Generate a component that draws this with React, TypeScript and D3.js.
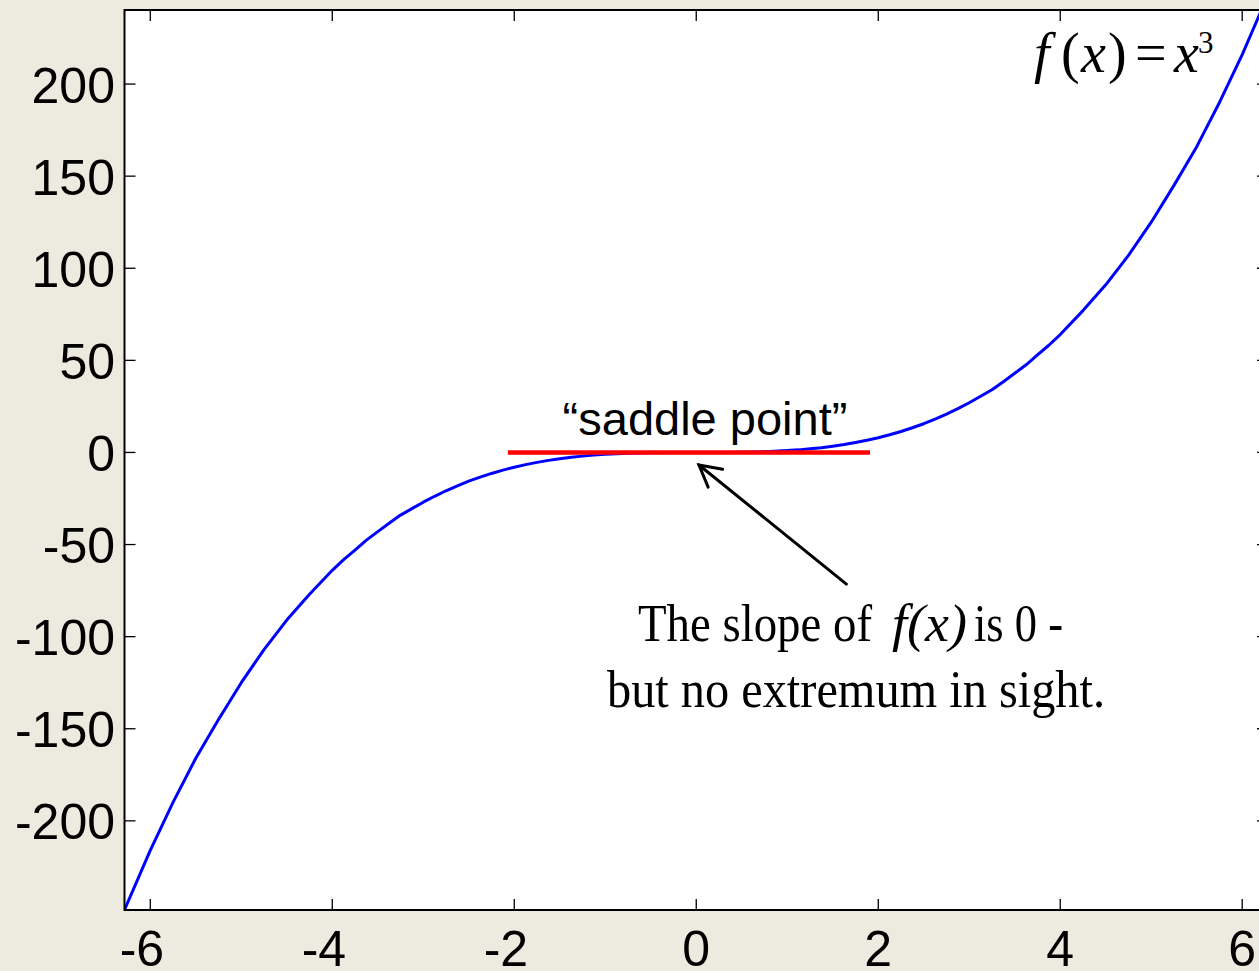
import React from "react";
import * as d3 from "d3";

// Sampled curve f(x) = x^3
const curveX = [
  -6.28, -6.0, -5.75, -5.5, -5.25, -5.0, -4.75, -4.5, -4.25, -4.0, -3.875, -3.75, -3.625,
  -3.5, -3.375, -3.25, -3.125,
  -3.0, -2.875, -2.75, -2.625, -2.5, -2.375, -2.25, -2.125, -2.0, -1.875, -1.75, -1.625,
  -1.5, -1.375, -1.25, -1.125, -1.0, -0.75, -0.5, -0.25, 0,
  0.25, 0.5, 0.75, 1.0, 1.125, 1.25, 1.375, 1.5, 1.625, 1.75, 1.875, 2.0, 2.125, 2.25,
  2.375, 2.5, 2.625, 2.75, 2.875, 3.0, 3.125, 3.25, 3.375, 3.5, 3.625, 3.75, 3.875,
  4.0, 4.25, 4.5, 4.75, 5.0, 5.25, 5.5, 5.75, 6.0, 6.28,
];
const curveY = [
  -248, -216, -190, -166, -145, -125, -107, -91, -77, -64, -58.2, -53, -47.6,
  -43, -38.4, -34, -30.5,
  -27, -23.8, -20.8, -18.1, -15.6, -13.4, -11.4, -9.6, -8, -6.6, -5.4, -4.3,
  -3.4, -2.6, -2, -1.4, -1, -0.4, -0.1, 0, 0,
  0, 0.1, 0.4, 1, 1.4, 2, 2.6, 3.4, 4.3, 5.4, 6.6, 8, 9.6, 11.4,
  13.4, 15.6, 18.1, 20.8, 23.8, 27, 30.5, 34, 38.4, 43, 47.6, 53, 58.2,
  64, 77, 91, 107, 125, 145, 166, 190, 216, 248,
];

// Horizontal tangent at the saddle point
const tangentX = [-2.07, 1.91];
const tangentY = [0, 0];

// Arrow from the note to the saddle point (tail, tip)
const arrowX = [1.65, 0.03];
const arrowY = [-71.5, -6.8];

const xTicks = [-6, -4, -2, 0, 2, 4, 6];
const yTicks = [-200, -150, -100, -50, 0, 50, 100, 150, 200];

const xDomain = [-6.2832, 6.2832];
const yDomain = [-248.4, 240.2];

const W = 1259;
const H = 971;
const plot = { left: 124.5, right: 1268, top: 10, bottom: 910 };
const BG = "#EDEAE0";

export default function App() {
  const x = d3.scaleLinear().domain(xDomain).range([plot.left, plot.right]);
  const y = d3.scaleLinear().domain(yDomain).range([plot.bottom, plot.top]);

  const pts: [number, number][] = curveX.map((v, i) => [v, curveY[i]]);
  const line = d3
    .line<[number, number]>()
    .x((d) => x(d[0]))
    .y((d) => y(d[1]));

  const tipX = x(arrowX[1]);
  const tipY = y(arrowY[1]);
  const tailX = x(arrowX[0]);
  const tailY = y(arrowY[0]);
  const ang = Math.atan2(tailY - tipY, tailX - tipX);
  const headLen = 24;
  const spread = 0.5;
  const wing1: [number, number] = [
    tipX + headLen * Math.cos(ang - spread),
    tipY + headLen * Math.sin(ang - spread),
  ];
  const wing2: [number, number] = [
    tipX + headLen * Math.cos(ang + spread),
    tipY + headLen * Math.sin(ang + spread),
  ];

  const fs = 50;
  const tickLen = 11;

  return (
    <svg
      width={W}
      height={H}
      style={{ position: "absolute", left: 0, top: 0, display: "block" }}
    >
      <defs>
        <clipPath id="plotClip">
          <rect
            x={plot.left}
            y={plot.top}
            width={plot.right - plot.left}
            height={plot.bottom - plot.top}
          />
        </clipPath>
      </defs>
      <rect x={0} y={0} width={W} height={H} fill={BG} />
      <rect
        x={plot.left}
        y={plot.top}
        width={plot.right - plot.left}
        height={plot.bottom - plot.top}
        fill="#FFFFFF"
      />

      {/* ticks on all four sides */}
      <g stroke="#000" strokeWidth={1.3}>
        {xTicks.map((t) => (
          <g key={"xt" + t}>
            <line x1={x(t)} x2={x(t)} y1={plot.bottom} y2={plot.bottom - tickLen} />
            <line x1={x(t)} x2={x(t)} y1={plot.top} y2={plot.top + tickLen} />
          </g>
        ))}
        {yTicks.map((t) => (
          <g key={"yt" + t}>
            <line x1={plot.left} x2={plot.left + tickLen} y1={y(t)} y2={y(t)} />
            <line x1={plot.right} x2={plot.right - tickLen} y1={y(t)} y2={y(t)} />
          </g>
        ))}
      </g>

      {/* curve */}
      <g clipPath="url(#plotClip)">
        <path d={line(pts) ?? ""} fill="none" stroke="#0000FF" strokeWidth={3} strokeLinejoin="round" />
      </g>

      {/* tangent line */}
      <line
        x1={x(tangentX[0])}
        x2={x(tangentX[1])}
        y1={y(tangentY[0])}
        y2={y(tangentY[1])}
        stroke="#FF0000"
        strokeWidth={4.5}
      />

      {/* axes box */}
      <rect
        x={plot.left}
        y={plot.top}
        width={plot.right - plot.left}
        height={plot.bottom - plot.top}
        fill="none"
        stroke="#000"
        strokeWidth={2}
      />

      {/* tick labels */}
      <g fontFamily="'Liberation Sans', Arial, sans-serif" fontSize={fs} fill="#000">
        {xTicks.map((t) => {
          const digits = String(Math.abs(t));
          const half = (digits.length * 0.556 * fs) / 2;
          return (
            <text key={"xl" + t} x={x(t) + half} y={966} textAnchor="end">
              {t < 0 ? "-" + digits : digits}
            </text>
          );
        })}
        {yTicks.map((t) => (
          <text key={"yl" + t} x={115} y={y(t) + 18.5} textAnchor="end">
            {t < 0 ? "-" + Math.abs(t) : String(t)}
          </text>
        ))}
      </g>

      {/* formula */}
      <g fontFamily="'Liberation Serif', 'Times New Roman', serif" fontSize={56} fill="#000">
        <text x={1034} y={72} fontStyle="italic">f</text>
        <text x={1061} y={72}>(</text>
        <text x={1081} y={72} fontStyle="italic">x</text>
        <text x={1108} y={72}>)</text>
        <text x={1135} y={72}>=</text>
        <text x={1174} y={72} fontStyle="italic">x</text>
        <text x={1198} y={53} fontSize={31}>3</text>
      </g>

      {/* saddle point label */}
      <text
        x={705}
        y={435}
        textAnchor="middle"
        fontFamily="'Liberation Sans', Arial, sans-serif"
        fontSize={47}
        fill="#000"
      >
        “saddle point”
      </text>

      {/* arrow */}
      <g stroke="#000" strokeWidth={3} fill="none" strokeLinecap="round">
        <line x1={tailX} y1={tailY} x2={tipX} y2={tipY} />
        <polyline points={`${wing1[0]},${wing1[1]} ${tipX},${tipY} ${wing2[0]},${wing2[1]}`} strokeLinejoin="miter" />
      </g>

      {/* note */}
      <g fontFamily="'Liberation Serif', 'Times New Roman', serif" fontSize={52} fill="#000">
        <text x={638} y={641} textLength={234} lengthAdjust="spacingAndGlyphs">
          The slope of
        </text>
        <text x={892} y={641} fontStyle="italic" textLength={75} lengthAdjust="spacingAndGlyphs">
          f(x)
        </text>
        <text x={974} y={641} textLength={89} lengthAdjust="spacingAndGlyphs">
          is 0 -
        </text>
        <text x={607} y={707} textLength={498} lengthAdjust="spacingAndGlyphs">
          but no extremum in sight.
        </text>
      </g>
    </svg>
  );
}
